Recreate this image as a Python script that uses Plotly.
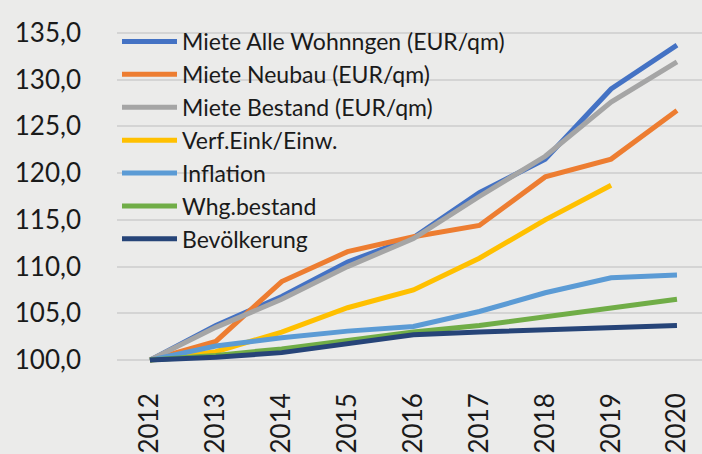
import plotly.graph_objects as go

years = [2012, 2013, 2014, 2015, 2016, 2017, 2018, 2019, 2020]

series_names = [
    "Miete Alle Wohnngen (EUR/qm)",
    "Miete Neubau (EUR/qm)",
    "Miete Bestand (EUR/qm)",
    "Verf.Eink/Einw.",
    "Inflation",
    "Whg.bestand",
    "Bevölkerung",
]

miete_alle = [100.0, 103.7, 106.8, 110.5, 113.1, 117.9, 121.5, 129.0, 133.7]
miete_neubau = [100.0, 102.0, 108.4, 111.6, 113.2, 114.4, 119.6, 121.5, 126.7]
miete_bestand = [100.0, 103.5, 106.5, 110.0, 113.0, 117.5, 121.8, 127.6, 131.9]
verf_eink = [100.0, 100.9, 103.0, 105.6, 107.5, 110.9, 115.0, 118.7, None]
inflation = [100.0, 101.5, 102.4, 103.1, 103.6, 105.2, 107.2, 108.8, 109.1]
whg_bestand = [100.0, 100.5, 101.2, 102.1, 103.0, 103.7, 104.6, 105.6, 106.5]
bevoelkerung = [100.0, 100.3, 100.8, 101.8, 102.7, 103.0, 103.2, 103.5, 103.7]

y_ticks = [100, 105, 110, 115, 120, 125, 130, 135]

series_values = [miete_alle, miete_neubau, miete_bestand, verf_eink,
                 inflation, whg_bestand, bevoelkerung]
colors = ["#4472C4", "#ED7D31", "#A5A5A5", "#FFC000", "#5B9BD5", "#70AD47", "#264478"]

FONT = "Lato"
BG = "#EBEBEA"

fig = go.Figure()
for i, (name, vals, col) in enumerate(zip(series_names, series_values, colors)):
    fig.add_trace(go.Scatter(
        x=years, y=vals, name=name, mode="lines",
        line=dict(color=col, width=5),
        connectgaps=False,
    ))

fig.update_layout(
    width=702, height=454,
    paper_bgcolor=BG, plot_bgcolor=BG,
    margin=dict(l=117, r=0, t=20, b=79),
    separators=",.",
    font=dict(family=FONT, color="#1a1a1a"),
    showlegend=True,
    legend=dict(
        x=0.0, y=1.0, xanchor="left", yanchor="top",
        bgcolor="rgba(0,0,0,0)", borderwidth=0,
        font=dict(family=FONT, size=23, color="#1a1a1a"),
        itemwidth=55,
        traceorder="normal",
    ),
    xaxis=dict(
        range=[2011.5, 2020.38],
        tickmode="array", tickvals=years, ticktext=[str(y) for y in years],
        tickangle=-90, showgrid=False, zeroline=False, showline=False,
        tickfont=dict(family=FONT, size=26, color="#1a1a1a"),
        ticks="", ticklabelstandoff=14,
    ),
    yaxis=dict(
        range=[98.62, 136.38],
        tickmode="array", tickvals=y_ticks, tickformat=".1f",
        showgrid=True, gridcolor="#D4D4D4", gridwidth=1.5,
        zeroline=False, showline=False,
        tickfont=dict(family=FONT, size=26, color="#1a1a1a"),
        ticks="", ticklabelstandoff=35,
    ),
)

fig.write_html(
    "out.html",
    config={"displayModeBar": False},
    post_script="document.body.style.margin='0';document.body.style.overflow='hidden';",
)
